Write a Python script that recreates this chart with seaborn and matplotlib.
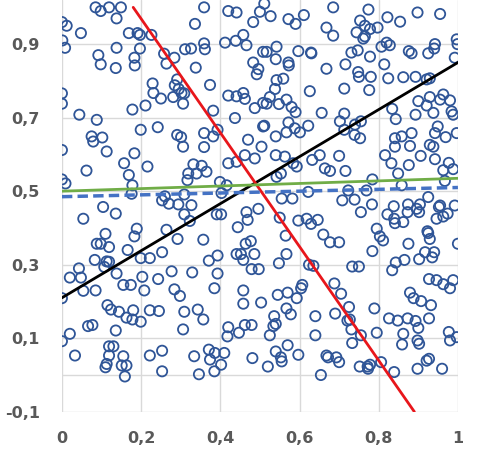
import matplotlib
matplotlib.use("Agg")
import matplotlib.pyplot as plt
import seaborn as sns
import pandas as pd

pts = [
(.085,1.00),(.098,.99),(.119,1.00),(.149,1.00),(.138,.97),(.0,.96),(.012,.95),(.048,.93),(.169,.93),(.191,.93),(.197,.925),(.226,.925),(.001,.91),(.008,.89),(.138,.89),(.092,.87),(.098,.845),(.136,.835),(.183,.863),(.184,.842),(.197,.888),(.258,.874),(.264,.847),(.284,.863),(.311,.886),(.326,.888),(.359,.902),(.361,.886),(.338,.836),(.359,1.00),(.336,.955),(.291,.804),(.285,.788),(.295,.778),(.302,.767),(.309,.766),(.281,.756),(.306,.738),(.229,.793),(.231,.767),(.25,.752),(.374,.789),(.382,.719),(.211,.733),(.178,.722),(.0,.766),(.0,.738),(.044,.708),(.088,.694),(.199,.667),(.242,.674),(.291,.653),(.301,.647),(.306,.621),(.359,.658),(.359,.62),(.382,.649),(.393,.667),(.075,.649),(.079,.635),(.102,.646),(.113,.608),(.0,.612),(.183,.603),(.157,.576),(.216,.567),(.169,.544),(.062,.556),(.0,.532),(.009,.521),(.178,.516),(.176,.493),(.332,.573),(.353,.569),(.365,.553),(.319,.548),(.34,.548),(.317,.53),(.309,.491),(.26,.486),(.253,.475),(.27,.466),(.294,.464),(.327,.462),(.104,.457),(.42,.576),(.441,.58),(.462,.598),(.487,.589),(.47,.64),(.504,.621),(.437,.699),(.487,.726),(.508,.676),(.399,.525),(.416,.516),(.403,.495),(.42,.99),(.441,.986),(.483,.96),(.5,.988),(.458,.925),(.412,.904),(.439,.909),(.466,.897),(.508,.879),(.483,.85),(.496,.832),(.492,.818),(.42,.76),(.441,.758),(.458,.767),(.462,.751),(.508,.74),
(.685,1.00),(.774,.994),(.527,.976),(.572,.968),(.59,.955),(.611,.979),(.668,.945),(.685,.923),(.753,.964),(.765,.95),(.778,.941),(.797,.945),(.744,.932),(.765,.921),(.761,.915),(.822,.973),(.854,.961),(.898,.986),(.955,.982),(.542,.893),(.517,.879),(.54,.859),(.572,.85),(.573,.842),(.597,.881),(.629,.877),(.63,.875),(.668,.833),(.716,.845),(.731,.877),(.747,.883),(.778,.866),(.748,.824),(.75,.811),(.78,.811),(.807,.893),(.82,.904),(.828,.897),(.814,.845),(.824,.807),(.862,.81),(.893,.811),(.876,.881),(.883,.875),(.925,.875),(.942,.9),(.94,.888),(.997,.913),(.999,.9),(.992,.863),(.921,.804),(.929,.807),(.542,.802),(.559,.806),(.538,.778),(.525,.756),(.517,.738),(.548,.737),(.567,.749),(.58,.729),(.59,.715),(.626,.772),(.713,.779),(.776,.775),(.656,.713),(.713,.711),(.702,.69),(.713,.667),(.74,.681),(.755,.69),(.739,.653),(.753,.644),(.572,.687),(.588,.671),(.601,.66),(.567,.66),(.511,.678),(.54,.649),(.622,.678),(.834,.724),(.843,.696),(.893,.708),(.9,.745),(.921,.733),(.929,.756),(.955,.749),(.963,.763),(.98,.747),(.984,.717),(.988,.708),(.938,.713),(.949,.676),(.942,.658),(.969,.647),(.997,.658),(.841,.644),(.858,.649),(.883,.658),(.841,.621),(.879,.623),(.929,.626),(.938,.621),(.816,.598),(.832,.576),(.876,.571),(.906,.596),(.942,.587),(.977,.577),(.963,.557),(.988,.56),(.849,.548),(.967,.528),(.54,.598),(.563,.594),(.584,.576),(.593,.567),(.651,.598),(.632,.585),(.664,.562),(.677,.555),(.7,.596),(.716,.555),(.542,.539),(.553,.548),(.784,.532),(.858,.516),(.622,.498),(.723,.502),(.769,.502),(.708,.475),(.739,.477),(.783,.464),(.555,.48),(.582,.48),(.838,.459),(.874,.464),(.904,.464),(.925,.484),(.955,.461),(.992,.461),(.511,1.01),
(.136,.439),(.054,.425),(.11,.384),(.088,.357),(.098,.357),(.119,.348),(.189,.398),(.183,.377),(.166,.34),(.264,.395),(.292,.37),(.253,.334),(.309,.437),(.323,.419),(.391,.437),(.402,.437),(.357,.368),(.393,.325),(.371,.311),(.083,.313),(.113,.309),(.119,.308),(.107,.294),(.043,.29),(.02,.265),(.048,.265),(.138,.276),(.199,.318),(.222,.318),(.277,.282),(.329,.279),(.393,.276),(.203,.267),(.243,.261),(.054,.229),(.085,.23),(.155,.245),(.174,.245),(.208,.23),(.284,.233),(.298,.215),(.385,.236),(.0,.209),(.115,.19),(.124,.178),(.144,.172),(.18,.176),(.222,.176),(.245,.174),(.163,.156),(.178,.151),(.199,.145),(.309,.172),(.343,.178),(.357,.151),(.306,.124),(.42,.13),(.418,.105),(.447,.115),(.066,.133),(.077,.136),(.136,.121),(.0,.092),(.02,.112),(.119,.078),(.13,.078),(.119,.053),(.155,.051),(.033,.053),(.113,.03),(.11,.021),(.151,.026),(.163,.026),(.159,-.004),(.222,.053),(.253,.066),(.253,.01),(.334,.051),(.346,.002),(.371,.069),(.374,.042),(.386,.06),(.41,.06),(.402,.028),(.385,.01),(.481,.046),(.458,.23),(.458,.194),(.462,.136),(.479,.136),(.444,.402),(.441,.329),(.452,.329),(.464,.357),(.477,.364),(.458,.313),(.486,.329),(.479,.288),(.497,.288),(.503,.197),(.466,.443),(.469,.422),(.496,.452),
(.55,.428),(.565,.379),(.567,.329),(.548,.304),(.597,.42),(.618,.425),(.629,.411),(.646,.422),(.66,.382),(.677,.361),(.7,.361),(.624,.3),(.635,.297),(.755,.443),(.795,.398),(.803,.377),(.811,.366),(.784,.337),(.733,.295),(.75,.295),(.822,.437),(.839,.425),(.841,.413),(.862,.416),(.873,.443),(.896,.452),(.902,.443),(.952,.457),(.946,.425),(.963,.431),(.974,.439),(.923,.391),(.925,.386),(.929,.37),(.875,.357),(1.0,.357),(.917,.334),(.94,.334),(.935,.32),(.902,.315),(.865,.313),(.843,.306),(.834,.285),(.688,.249),(.705,.221),(.607,.245),(.604,.236),(.593,.209),(.57,.224),(.545,.218),(.567,.181),(.578,.165),(.536,.16),(.534,.133),(.54,.139),(.525,.108),(.64,.16),(.64,.108),(.69,.167),(.725,.185),(.727,.151),(.721,.148),(.731,.124),(.755,.108),(.733,.087),(.789,.181),(.795,.115),(.826,.154),(.848,.148),(.873,.154),(.893,.147),(.9,.128),(.927,.154),(.932,.19),(.907,.201),(.888,.209),(.879,.224),(.927,.261),(.946,.258),(.963,.247),(.98,.236),(.988,.258),(.862,.112),(.859,.083),(.898,.094),(.902,.085),(.977,.117),(.98,.094),(.997,.103),(.57,.081),(.597,.055),(.54,.064),(.553,.048),(.555,.037),(.52,.023),(.668,.053),(.672,.048),(.693,.048),(.7,.035),(.654,.0),(.752,.023),(.772,.023),(.778,.028),(.806,.035),(.773,.017),(.839,.008),(.898,.017),(.921,.039),(.927,.044),(.96,.017),
]
x_vals = [p[0] for p in pts]
y_vals = [p[1] for p in pts]

black_x = [0, 1]; black_y = [0.21, 0.85]
red_x = [0.18, 0.89]; red_y = [1.0, -0.1]
green_x = [0, 1]; green_y = [0.50, 0.535]
blue_x = [0, 1]; blue_y = [0.485, 0.51]

x_ticks = [0, 0.2, 0.4, 0.6, 0.8, 1]
x_labels = ["0", "0,2", "0,4", "0,6", "0,8", "1"]
y_ticks = [-0.1, 0.1, 0.3, 0.5, 0.7, 0.9]
y_labels = ["-0,1", "0,1", "0,3", "0,5", "0,7", "0,9"]

sns.set_style("white")
fig = plt.figure(figsize=(4.8, 4.51), dpi=100)
ax = fig.add_axes([0.129, 0.087, 0.825, 0.913])

for g in [-0.1, 0, 0.1, 0.3, 0.5, 0.7, 0.9]:
    ax.axhline(g, color="#d9d9d9", lw=1, zorder=0)
for g in x_ticks:
    ax.axvline(g, color="#d9d9d9", lw=1, zorder=0)

sns.scatterplot(x=x_vals, y=y_vals, ax=ax, marker="o", s=54, facecolor="none",
                edgecolor="#2F5597", linewidth=1.3, zorder=2)
sns.lineplot(x=black_x, y=black_y, ax=ax, color="black", lw=2, zorder=3)
sns.lineplot(x=red_x, y=red_y, ax=ax, color="#e8161b", lw=2, zorder=3)
sns.lineplot(x=green_x, y=green_y, ax=ax, color="#70AD47", lw=2, zorder=3)
sns.lineplot(x=blue_x, y=blue_y, ax=ax, color="#4472C4", lw=2.5, ls=(0, (3, 1.5)), zorder=3)

ax.set_xlim(0, 1)
ax.set_ylim(-0.1, 1.02)
ax.set_xticks(x_ticks)
ax.set_xticklabels(x_labels)
ax.set_yticks(y_ticks)
ax.set_yticklabels(y_labels)
for lab in ax.get_xticklabels() + ax.get_yticklabels():
    lab.set_fontweight("bold")
    lab.set_color("#595959")
    lab.set_fontsize(11.5)
ax.tick_params(axis="y", length=0, pad=16)
ax.tick_params(axis="x", length=0, pad=14)
for s in ax.spines.values():
    s.set_visible(False)
fig.savefig("out.png", dpi=100)
